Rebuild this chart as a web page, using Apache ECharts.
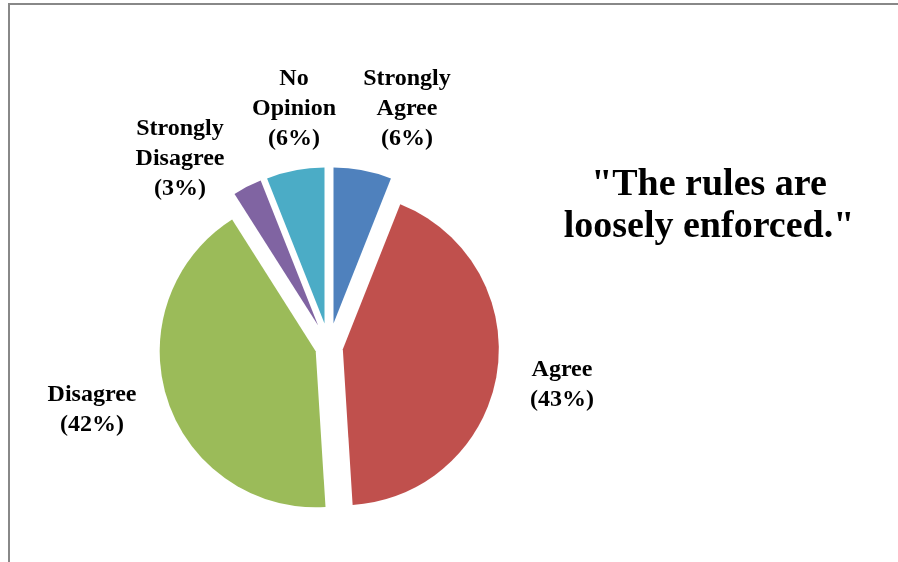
<!DOCTYPE html>
<html>
<head>
<meta charset="utf-8">
<script src="https://cdn.jsdelivr.net/npm/echarts@6/dist/echarts.min.js"></script>
<style>
  html, body { margin: 0; padding: 0; background: #fff; }
  #chart { width: 898px; height: 562px; }
</style>
</head>
<body>
<div id="chart"></div>
<script>
var categories = ['Strongly Agree', 'Agree', 'Disagree', 'Strongly Disagree', 'No Opinion'];
var percents = [6, 43, 42, 3, 6];
var sliceColors = ['#4F81BD', '#C0504D', '#9BBB59', '#8064A2', '#4BACC6'];
// the two big slices are pulled out less than the small ones
var isBig = [false, true, true, false, false];
// label centres (px), placed like the original
var labelSpots = [[407, 109], [562, 385], [92, 410], [180, 159], [294, 109]];

var chart = echarts.init(document.getElementById('chart'));
var serif = '"Liberation Serif", "Times New Roman", serif';

function buildData(big) {
    return categories.map(function (name, i) {
        var on = isBig[i] === big;
        return {
            name: name,
            value: percents[i],
            selected: on,
            itemStyle: { color: on ? sliceColors[i] : 'rgba(0,0,0,0)' }
        };
    });
}

function makeSeries(big, offset) {
    return {
        type: 'pie',
        center: [329, 347],
        radius: 156,
        startAngle: 90,
        clockwise: true,
        selectedMode: 'multiple',
        selectedOffset: offset,
        silent: true,
        itemStyle: { borderWidth: 0 },
        label: { show: false },
        labelLine: { show: false },
        emphasis: { disabled: true },
        data: buildData(big)
    };
}

// data labels as text, built from the same arrays
var labels = categories.map(function (name, i) {
    return {
        type: 'text',
        x: labelSpots[i][0],
        y: labelSpots[i][1],
        silent: true,
        style: {
            text: name.replace(' ', '\n') + '\n(' + percents[i] + '%)',
            fontFamily: serif,
            fontWeight: 'bold',
            fontSize: 24,
            lineHeight: 30,
            fill: '#000',
            align: 'center',
            verticalAlign: 'middle'
        }
    };
});

var option = {
    animation: false,
    backgroundColor: '#fff',
    title: {
        text: '"The rules are\nloosely enforced."',
        left: 709,
        top: 164,
        textAlign: 'center',
        padding: 0,
        textStyle: {
            fontFamily: serif,
            fontWeight: 'bold',
            fontSize: 38,
            lineHeight: 42,
            color: '#000'
        }
    },
    graphic: [{
        type: 'rect',
        shape: { x: 9, y: 4, width: 2000, height: 2000 },
        style: { fill: 'none', stroke: '#888', lineWidth: 2 },
        silent: true
    }].concat(labels),
    series: [makeSeries(true, 14), makeSeries(false, 24)]
};

chart.setOption(option);
</script>
</body>
</html>
